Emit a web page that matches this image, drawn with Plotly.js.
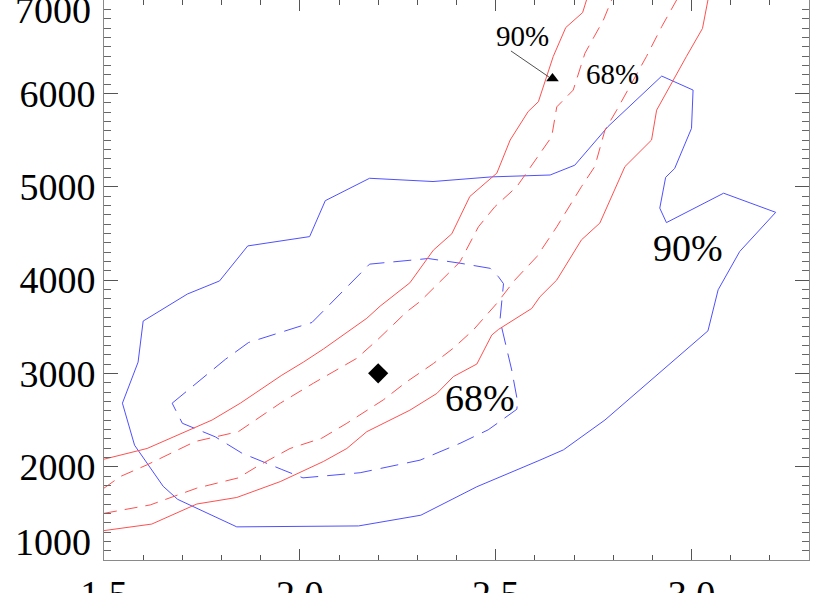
<!DOCTYPE html>
<html>
<head>
<meta charset="utf-8">
<script src="https://cdn.plot.ly/plotly-3.0.1.min.js"></script>
<style>
  html, body { margin: 0; padding: 0; background: white; }
  #chart { width: 830px; height: 593px; }
</style>
</head>
<body>
<div id="chart"></div>
<script>
// Confidence contours (blue) and model bands (red)

// blue, 90% contour (closed)
const blue90X = [1.600, 1.587, 1.547, 1.578, 1.651, 1.688, 1.839, 2.150, 2.309, 2.452, 2.613, 2.673, 2.779,
                 3.042, 3.068, 3.123, 3.215, 3.082, 2.936, 2.919, 2.934, 2.957, 3.000, 3.004, 2.924, 2.787,
                 2.702, 2.639, 2.490, 2.340, 2.178, 2.065, 2.025, 1.867, 1.795, 1.713, 1.600];
const blue90Y = [3560, 3120, 2680, 2230, 1790, 1650, 1355, 1365, 1480, 1785, 2070, 2180, 2500,
                 3455, 3895, 4305, 4725, 4930, 4615, 4770, 5100, 5195, 5625, 6035, 6185, 5645,
                 5230, 5125, 5105, 5055, 5090, 4850, 4465, 4365, 3990, 3850, 3560];

// blue, 68% contour (closed)
const blue68X = [1.674, 1.702, 1.810, 1.869, 2.031, 2.178, 2.328, 2.409, 2.486, 2.507, 2.520, 2.511, 2.541,
                 2.556, 2.554, 2.516, 2.481, 2.409, 2.307, 2.154, 2.008, 1.954, 1.852, 1.784, 1.700, 1.674];
const blue68Y = [2680, 2775, 3150, 3330, 3545, 4170, 4230, 4180, 4125, 4035, 3960, 3570, 3035,
                 2695, 2615, 2500, 2395, 2250, 2070, 1935, 1880, 1970, 2145, 2320, 2465, 2680];

// red, 90% band edges
const red90UpX = [1.500, 1.610, 1.776, 1.848, 1.954, 2.009, 2.060, 2.171, 2.205, 2.281, 2.341, 2.388, 2.434,
                  2.503, 2.537, 2.583, 2.609, 2.647, 2.679, 2.722, 2.732];
const red90UpY = [2080, 2195, 2500, 2680, 2980, 3120, 3260, 3590, 3720, 3970, 4320, 4495, 4895,
                  5145, 5500, 5805, 5910, 6395, 6705, 6865, 7000];
const red90LoX = [1.500, 1.622, 1.737, 1.839, 1.950, 2.060, 2.120, 2.171, 2.281, 2.350, 2.392, 2.452, 2.490,
                  2.507, 2.592, 2.613, 2.656, 2.719, 2.766, 2.830, 2.898, 2.911, 2.987, 3.028, 3.042];
const red90LoY = [1315, 1385, 1600, 1670, 1840, 2055, 2195, 2375, 2605, 2785, 2965, 3100, 3410,
                  3470, 3695, 3820, 4000, 4430, 4610, 5215, 5500, 5820, 6395, 6695, 7000];

// red, 68% band edges
const red68UpX = [1.500, 1.542, 1.610, 1.733, 1.843, 1.886, 1.950, 2.035, 2.145, 2.196, 2.273, 2.307, 2.375,
                  2.409, 2.456, 2.498, 2.554, 2.621, 2.643, 2.656, 2.698, 2.728, 2.775, 2.796];
const red68UpY = [1770, 1895, 2020, 2270, 2375, 2500, 2680, 2895, 3160, 3350, 3660, 3770, 4055,
                  4195, 4570, 4785, 5000, 5395, 5535, 5855, 6035, 6430, 6785, 7000];
const red68LoX = [1.500, 1.618, 1.737, 1.843, 1.890, 1.975, 2.056, 2.120, 2.213, 2.273, 2.341, 2.392, 2.443,
                  2.503, 2.549, 2.605, 2.656, 2.719, 2.753, 2.779, 2.809, 2.885, 2.924, 2.962];
const red68LoY = [1500, 1590, 1770, 1880, 2000, 2195, 2305, 2465, 2715, 2910, 3105, 3270, 3465,
                  3750, 4000, 4250, 4570, 5000, 5215, 5605, 5820, 6395, 6715, 7000];

// best-fit points
const diamondX = [2.20], diamondY = [3000];
const triangleX = [2.645], triangleY = [6160];

// contour labels
const labelText = ['90%', '68%', '90%', '68%'];
const labelX = [2.568, 2.798, 2.991, 2.461];
const labelY = [6616, 6207, 4343, 2736];

// pointer from the small "90%" label to the triangle
const pointerX = [2.539, 2.636];
const pointerY = [6454, 6175];

const xTicks = [1.5, 2.0, 2.5, 3.0];
const yTicks = [2000, 3000, 4000, 5000, 6000];
const yEndTicks = [7000, 1000];

const SERIF = '"Liberation Serif", "Times New Roman", serif';
const BLUE = '#5050ff';
const RED = '#ff5050';

const line = (x, y, color, dash, width) => ({
    x, y, mode: 'lines',
    line: { color, width: width || 1, dash: dash || 'solid' },
});

const traces = [
    line(blue90X, blue90Y, BLUE),
    line(blue68X, blue68Y, BLUE, '18px,9px'),
    line(red90UpX, red90UpY, RED),
    line(red90LoX, red90LoY, RED),
    line(red68UpX, red68UpY, RED, '13px,8px'),
    line(red68LoX, red68LoY, RED, '13px,8px'),
    line(pointerX, pointerY, '#222', 'solid', 0.8),
    { x: diamondX, y: diamondY, mode: 'markers', marker: { symbol: 'diamond', size: 15.5, color: 'black' } },
    { x: triangleX, y: triangleY, mode: 'markers', marker: { symbol: 'triangle-up', size: 11, color: 'black' } },
];

const labelSizes = [29, 29, 38, 38];
const annotations = labelText.map((t, i) => ({
    text: t, x: labelX[i], y: labelY[i], showarrow: false,
    font: { family: SERIF, size: labelSizes[i], color: 'black' },
}));
// end labels of the y axis sit nudged inward, as in the original plot
const endShift = [-10, 18];
yEndTicks.forEach((v, i) => annotations.push({
    text: String(v), x: 0, xref: 'paper', y: v,
    xanchor: 'right', xshift: -11, yshift: endShift[i], showarrow: false,
    font: { family: SERIF, size: 38, color: 'black' },
}));

const axis = () => ({
    showgrid: false, zeroline: false,
    showline: true, linecolor: '#8a8a8a', linewidth: 1, mirror: 'ticks',
    ticks: 'inside', tickcolor: '#555', tickwidth: 1,
    tickfont: { family: SERIF, size: 38, color: 'black' },
});

const layout = {
    width: 830, height: 593,
    margin: { l: 104, r: 21, t: 0, b: 33 },
    showlegend: false,
    xaxis: {
        ...axis(), range: [1.5, 3.3],
        tickmode: 'array', tickvals: xTicks, ticktext: xTicks.map(v => v.toFixed(1)),
        ticklen: 11,
        minor: { dtick: 0.1, tick0: 1.5, ticks: 'inside', ticklen: 5, tickcolor: '#555', showgrid: false },
    },
    yaxis: {
        ...axis(), range: [1000, 7000],
        tickmode: 'array', tickvals: yTicks, ticktext: yTicks.map(String),
        ticklen: 14,
        minor: { dtick: 100, tick0: 1000, ticks: 'inside', ticklen: 7, tickcolor: '#666', showgrid: false },
    },
    annotations,
};

Plotly.newPlot('chart', traces, layout, { displayModeBar: false, staticPlot: true });
</script>
</body>
</html>
